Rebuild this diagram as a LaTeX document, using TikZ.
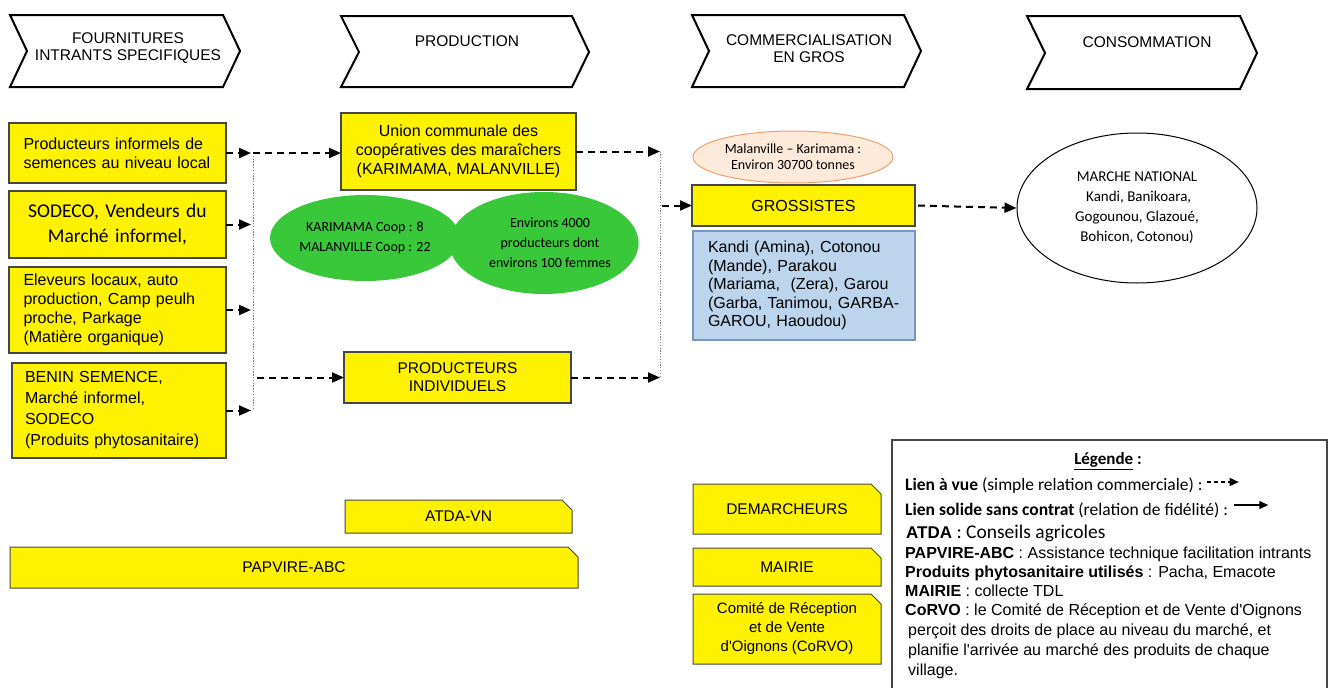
\documentclass[tikz,border=0pt]{standalone}
\usepackage{fontspec}
\setmainfont{Liberation Sans}
\newfontfamily\calib{Carlito}
\usetikzlibrary{arrows.meta,shapes.geometric,shapes.misc}

\definecolor{boxedge}{RGB}{70,70,70}
\definecolor{leafgreen}{RGB}{57,200,57}
\definecolor{peachfill}{RGB}{253,234,218}
\definecolor{peachedge}{RGB}{240,160,110}
\definecolor{skyfill}{RGB}{188,212,236}
\definecolor{skyedge}{RGB}{120,150,190}

\newcommand\fsz[2]{\fontsize{#1}{#2}\selectfont}

\begin{document}
\begin{tikzpicture}[x=1pt,y=-1pt,
  chev/.style={draw=black, line width=2, line join=miter, fill=white},
  chevtext/.style={align=center, font=\fsz{15.5}{17}, inner sep=0},
  ybox/.style={draw=boxedge, line width=1.3, fill=yellow, inner sep=0, outer sep=0},
  snipbox/.style={chamfered rectangle, chamfered rectangle corners=north east,
    chamfered rectangle sep=5pt, draw=boxedge, line width=1, fill=yellow,
    inner sep=0, outer sep=0, font=\fsz{15.5}{19}},
  leaf/.style={ellipse, fill=leafgreen, inner sep=0, align=center,
    font=\calib\fsz{14}{20}},
  dasharrow/.style={draw=black, line width=2, dash pattern=on 7pt off 5pt,
    -{Triangle[length=12pt,width=10pt]}},
  busline/.style={draw=gray, line width=1, dash pattern=on 1.3pt off 1.5pt},
  legtext/.style={anchor=west, inner sep=0, font=\fsz{16}{19}}
]
\useasboundingbox (0,0) rectangle (1328,688);

% stage headers
\draw[chev] (10,15) -- (223,15) -- (240,51) -- (223,87) -- (10,87) -- (27,51) -- cycle;
\node[chevtext] (hfour) at (128,48.5) {FOURNITURES\\INTRANTS SPECIFIQUES};
\draw[chev] (341,16) -- (572,16) -- (589,52) -- (572,87) -- (341,87) -- (359,52) -- cycle;
\node[chevtext] (hprod) at (467,41) {PRODUCTION};
\draw[chev] (692,15) -- (904,15) -- (921,51) -- (904,87) -- (692,87) -- (709,51) -- cycle;
\node[chevtext] (hcomm) at (809,48.5) {COMMERCIALISATION\\EN GROS};
\draw[chev] (1027,16) -- (1240,16) -- (1257,53) -- (1240,89) -- (1027,89) -- (1045,53) -- cycle;
\node[chevtext] (hcons) at (1147,42) {CONSOMMATION};

% input suppliers
\node[ybox, minimum width=217, minimum height=60, text width=188, align=left,
  font=\fsz{16}{19}] (b1) at (117.5,153)
  {Producteurs informels de\\semences au niveau local};
\node[ybox, minimum width=217, minimum height=67, text width=200, align=center,
  font=\calib\fsz{19.5}{25}] (b2) at (117.5,224.5)
  {SODECO, Vendeurs du\\Marché informel,};
\node[ybox, minimum width=217, minimum height=86, text width=188, align=left,
  font=\fsz{16}{19}] (b3) at (117.5,310)
  {Eleveurs locaux, auto\\production, Camp peulh\\proche, Parkage\\(Matière organique)};
\node[ybox, minimum width=214, minimum height=95, text width=188, align=left,
  font=\fsz{16}{21}] (b4) at (119,410.5)
  {BENIN SEMENCE,\\Marché informel,\\SODECO\\(Produits phytosanitaire)};

% production
\node[ybox, minimum width=235, minimum height=77, align=center,
  font=\fsz{16}{19}] (union) at (458.5,151.5)
  {Union communale des\\coopératives des maraîchers\\(KARIMAMA, MALANVILLE)};
\node[leaf, minimum width=190, minimum height=86] (coop) at (365,238)
  {KARIMAMA Coop : 8\\MALANVILLE Coop : 22};
\node[leaf, minimum width=178, minimum height=102] (memb) at (544,243)
  {\hspace*{12pt}Environs 4000\\\hspace*{12pt}producteurs dont\\\hspace*{12pt}environs 100 femmes};
\node[ybox, minimum width=227, minimum height=51, align=center,
  font=\fsz{15.5}{18}] (indiv) at (457.5,377.5)
  {PRODUCTEURS\\INDIVIDUELS};

% wholesale
\node[ellipse, draw=peachedge, line width=1, fill=peachfill, minimum width=200,
  minimum height=52, inner sep=0, align=center, font=\calib\fsz{14}{16}]
  (vol) at (793,157) {Malanville – Karimama :\\Environ 30700 tonnes};
\node[ybox, minimum width=223, minimum height=41, font=\fsz{16}{19}]
  (gross) at (803.5,205.5) {GROSSISTES};
\node[draw=skyedge, line width=1.3, fill=skyfill, minimum width=222,
  minimum height=109, inner sep=0, text width=192, align=left,
  font=\fsz{16}{18.5}] (names) at (804,285.5)
  {Kandi (Amina), Cotonou\\(Mande), Parakou\\(Mariama, \ (Zera), Garou\\(Garba, Tanimou, GARBA-\\GAROU, Haoudou)};

% consumption
\node[ellipse, draw=black, line width=1, fill=white, minimum width=240,
  minimum height=150, inner sep=0, align=center, font=\calib\fsz{15}{20}]
  (march) at (1137,208)
  {MARCHE NATIONAL\\\ Kandi, Banikoara,\\Gogounou, Glazoué,\\Bohicon, Cotonou)};

% support actors
\node[snipbox, minimum width=227, minimum height=33] (atda) at (458.5,516.5)
  {ATDA-VN\hspace{20pt}};
\node[snipbox, minimum width=568, minimum height=41] (papv) at (294,567.5)
  {PAPVIRE-ABC\hspace{56pt}};
\node[snipbox, minimum width=188, minimum height=50] (dema) at (787,509)
  {\raisebox{-4pt}{DEMARCHEURS}\hspace{12pt}};
\node[snipbox, minimum width=188, minimum height=38] (mair) at (787,567)
  {\raisebox{-2pt}{MAIRIE}\hspace{18pt}};
\node[snipbox, minimum width=188, minimum height=70, align=center,
  font=\fsz{15}{19}] (corvo) at (787,629)
  {Comité de Réception\\et de Vente\\d\textquotesingle Oignons (CoRVO)};

% flows
\coordinate (busL) at (253,0);
\coordinate (busR) at (660,0);
\draw[busline] (b1.east -| busL) -- (b4.east -| busL);
\foreach \b in {b1,b2,b3,b4}
  \draw[dasharrow, shorten >=2pt] (\b.east) -- (\b.east -| busL);
\draw[dasharrow] (b1.east -| busL) -- (b1.east -| union.west);
\draw[dasharrow, shorten <=4pt] (indiv.west -| busL) -- (indiv.west);
\draw[busline] (union.east -| busR) -- (indiv.east -| busR);
\draw[dasharrow] (union.east) -- (union.east -| busR);
\draw[dasharrow] (indiv.east) -- (indiv.east -| busR);
\draw[dasharrow, shorten <=2pt] (gross.west -| busR) -- (gross.west);
\draw[dasharrow, shorten <=3pt] (gross.east) -- (march.west);

% legend
\draw[draw=boxedge, line width=1.5] (892,700) -- (892,440) -- (1327,440) -- (1327,700);
\node[inner sep=0, font=\calib\bfseries\fsz{17}{20}] (ltitle) at (1108,461)
  {\underline{Légende} :};
\node[legtext, font=\calib\fsz{17.5}{20}] (lvue) at (905,486)
  {\textbf{Lien à vue} (simple relation commerciale) :};
\node[legtext, font=\calib\fsz{17.5}{20}] (lsol) at (905,510)
  {\textbf{Lien solide sans contrat} (relation de fidélité) :};
\coordinate (lvueA) at ([xshift=4pt,yshift=4pt]lvue.east);
\coordinate (lvueB) at ([xshift=36pt,yshift=4pt]lvue.east);
\coordinate (lsolA) at ([xshift=6pt,yshift=5pt]lsol.east);
\coordinate (lsolB) at ([xshift=40pt,yshift=5pt]lsol.east);
\draw[line width=1.2, dash pattern=on 4pt off 3pt, -{Triangle[length=9pt,width=8pt]}] (lvueA) -- (lvueB);
\draw[line width=1.2, -{Triangle[length=9pt,width=8pt]}] (lsolA) -- (lsolB);
\node[legtext] (latda) at (906,533)
  {{\fsz{17}{20}\bfseries ATDA}{\calib\fsz{19.5}{22} : Conseils agricoles}};
\node[legtext] (lpap) at (905,554)
  {\textbf{PAPVIRE-ABC} : Assistance technique facilitation intrants};
\node[legtext] (lphy) at (905,573)
  {\textbf{Produits phytosanitaire utilisés} : Pacha, Emacote};
\node[legtext] (lmai) at (905,591)
  {\textbf{MAIRIE} : collecte TDL};
\node[anchor=north west, inner sep=0, align=left, font=\fsz{16}{20}] (lcor) at (905,604)
  {\textbf{CoRVO} : le Comité de Réception et de Vente d\textquotesingle Oignons\\
   \hspace*{3pt}perçoit des droits de place au niveau du marché, et\\
   \hspace*{3pt}planifie l\textquotesingle arrivée au marché des produits de chaque\\
   \hspace*{3pt}village.};
\end{tikzpicture}
\end{document}
